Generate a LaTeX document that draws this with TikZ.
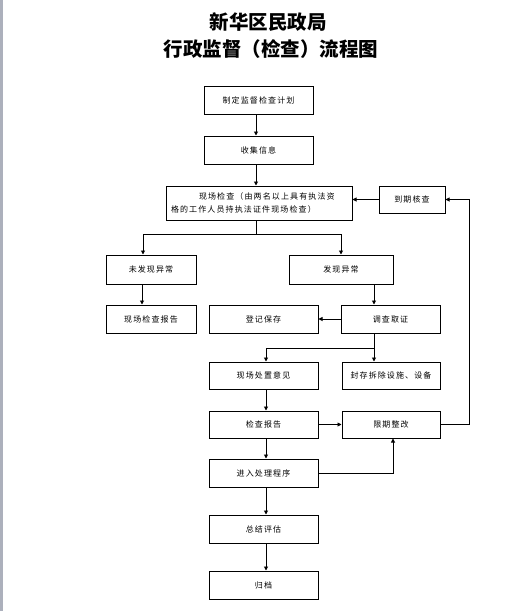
\documentclass[tikz,border=0pt]{standalone}
\usepackage{fontspec}
\usetikzlibrary{arrows.meta}
\newfontfamily\cjk{Noto Sans CJK SC}[LetterSpace=14]
\newfontfamily\cjktitle{Noto Sans CJK SC}
\definecolor{sidebar}{RGB}{172,176,188}
\begin{document}
\begin{tikzpicture}[x=1pt, y=-1pt,
    box/.style={draw, line width=1pt, inner sep=0pt, font=\cjk\fontsize{8}{13}\selectfont},
    arr/.style={line width=0.9pt, -{Triangle[length=4pt,width=4pt]}},
    conn/.style={line width=0.9pt}]
    \useasboundingbox (0,0) rectangle (529,611);
    \fill[sidebar] (0,0) rectangle (3,611);

    % Title
    \node[font=\cjktitle\bfseries\fontsize{19.5}{21}\selectfont] (title1) at (268,22) {新华区民政局};
    \node[font=\cjktitle\bfseries\fontsize{19.5}{21}\selectfont] (title2) at (271,49) {行政监督（检查）流程图};

    % Main column
    \node[box, minimum width=109, minimum height=28] (plan) at (258.5,100) {制定监督检查计划};
    \node[box, minimum width=109, minimum height=28] (collect) at (258.5,150) {收集信息};
    \node[box, minimum width=186, minimum height=34, text width=176, align=left] (site) at (259,203)
      {\hspace*{28pt}现场检查（由两名以上具有执法资\\格的工作人员持执法证件现场检查）};
    \node[box, minimum width=66, minimum height=27] (due) at (412,199.5) {到期核查};

    % Two outcomes
    \node[box, minimum width=90, minimum height=29] (noabn) at (151,269.5) {未发现异常};
    \node[box, minimum width=104, minimum height=29] (abn) at (341,269.5) {发现异常};
    \node[box, minimum width=90, minimum height=28] (sitereport) at (151,319) {现场检查报告};
    \node[box, minimum width=109, minimum height=28] (register) at (263.5,319) {登记保存};
    \node[box, minimum width=99, minimum height=28] (investigate) at (390.5,319) {调查取证};

    % Handling
    \node[box, minimum width=109, minimum height=27] (opinion) at (263.5,375.5) {现场处置意见};
    \node[box, minimum width=98, minimum height=27] (seal) at (391,375.5) {封存拆除设施、设备};
    \node[box, minimum width=109, minimum height=27] (report) at (263.5,424.5) {检查报告};
    \node[box, minimum width=98, minimum height=27] (rectify) at (391,424.5) {限期整改};
    \node[box, minimum width=109, minimum height=28] (process) at (263.5,473) {进入处理程序};
    \node[box, minimum width=109, minimum height=28] (summary) at (263.5,529) {总结评估};
    \node[box, minimum width=109, minimum height=28] (archive) at (263.5,585) {归档};

    % Connectors
    \draw[arr] ([xshift=-2.5pt]plan.south) -- ([xshift=-2.5pt]collect.north);
    \draw[arr] ([xshift=-2.5pt]collect.south) -- ([xshift=-3pt]site.north);
    \draw[conn] ([xshift=-3pt]site.south) -- ++(0,14) coordinate (split);
    \draw[arr] (split) -| ([xshift=-8pt]noabn.north);
    \draw[arr] (split) -| (abn.north);
    \draw[arr] ([xshift=-9pt]noabn.south) -- ([xshift=-9pt]sitereport.north);
    \draw[arr] ([xshift=33pt]abn.south) -- ([xshift=33pt]abn.south |- investigate.north);
    \draw[arr] (investigate.west) -- (register.east);
    \draw[conn] ([xshift=-16.5pt]investigate.south) -- ++(0,15) coordinate (branch);
    \draw[arr] (branch) -| ([xshift=2.5pt]opinion.north);
    \draw[arr] (branch) -- (branch |- seal.north);
    \draw[arr] ([xshift=2.5pt]opinion.south) -- ([xshift=2.5pt]report.north);
    \draw[arr] (report.east) -- (rectify.west);
    \draw[arr] ([xshift=2.5pt]report.south) -- ([xshift=2.5pt]process.north);
    \draw[arr] (process.east) -| ([xshift=2pt]rectify.south);
    \draw[arr] ([xshift=2.5pt]process.south) -- ([xshift=2.5pt]summary.north);
    \draw[arr] ([xshift=2.5pt]summary.south) -- ([xshift=2.5pt]archive.north);

    % Loop back for re-inspection
    \draw[arr] (rectify.east) -- ++(29,0) |- (due.east);
    \draw[arr] (due.west) -- (due.west -| site.east);
\end{tikzpicture}
\end{document}
